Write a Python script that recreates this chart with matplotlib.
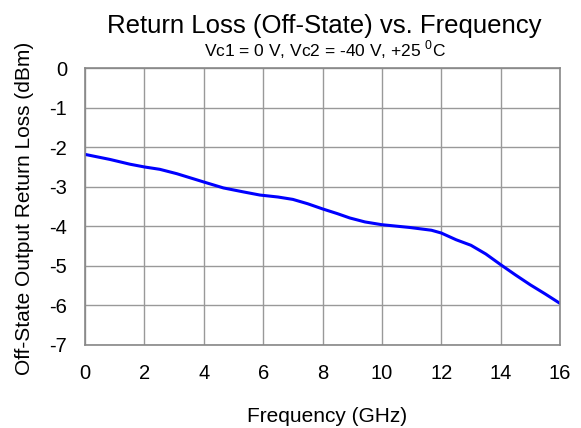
import matplotlib.pyplot as plt

plt.rcParams['font.family'] = ['Liberation Sans', 'DejaVu Sans']
plt.rcParams['axes.unicode_minus'] = False
plt.rcParams['mathtext.fontset'] = 'custom'
plt.rcParams['mathtext.rm'] = 'Liberation Sans'

# Off-state output return loss
freq_ghz = [0.05, 0.84, 1.51, 2.0, 2.52, 3.09, 4.0, 4.66, 5.33, 5.89, 6.5,
            7.0, 7.5, 8.0, 8.5, 8.92, 9.43, 10.0, 10.94, 11.67, 12.0, 12.5,
            13.0, 13.5, 14.0, 14.5, 15.0, 15.5, 16.0]
return_loss = [-2.19, -2.31, -2.43, -2.50, -2.56, -2.67, -2.88, -3.03, -3.13,
               -3.21, -3.26, -3.32, -3.43, -3.56, -3.68, -3.79, -3.89, -3.96,
               -4.03, -4.10, -4.17, -4.34, -4.48, -4.70, -4.97, -5.23, -5.48,
               -5.71, -5.95]

x_ticks = list(range(0, 17, 2))
y_ticks = list(range(-7, 1))

fig = plt.figure(figsize=(5.81, 4.28), dpi=100)
ax = fig.add_axes([0.1463, 0.194, 0.8176, 0.647])

ax.plot(freq_ghz, return_loss, color='#0000FF', linewidth=2.2)

ax.set_xlim(0, 16)
ax.set_ylim(-7, 0)
ax.set_xticks(x_ticks)
ax.set_yticks(y_ticks)
ax.tick_params(axis='x', length=0, labelsize=14.5, pad=14)
ax.tick_params(axis='y', length=0, labelsize=14.5, pad=13)
ax.grid(True, color='#999999', linewidth=1)
for s in ax.spines.values():
    s.set_color('#888888')
    s.set_linewidth(1.2)

fig.text(0.563, 0.014, 'Frequency (GHz)', fontsize=15, ha='center',
         va='baseline')
fig.text(0.043, 0.514, 'Off-State Output Return Loss (dBm)', fontsize=15,
         ha='center', va='center', rotation=90)

fig.text(0.5577, 0.924, 'Return Loss (Off-State) vs. Frequency', fontsize=18.5,
         ha='center', va='baseline')
fig.text(0.559, 0.868, 'Vc1 = 0 V, Vc2 = -40 V, +25 $^\\mathrm{0}$C',
         fontsize=12.5, ha='center', va='baseline')

fig.savefig('out.png', dpi=100)
